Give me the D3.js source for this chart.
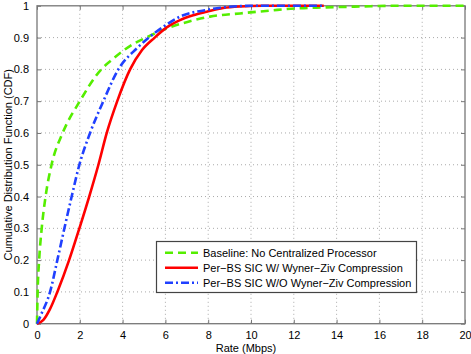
<!DOCTYPE html>
<html><head><meta charset="utf-8">
<script src="https://cdn.jsdelivr.net/npm/d3@7/dist/d3.min.js"></script>
<style>body{margin:0;background:#fff}svg{display:block}text{font-family:"Liberation Sans",Arial,sans-serif}</style>
</head><body><div id="chart"></div>
<script>
const xTicks = [0,2,4,6,8,10,12,14,16,18,20];
const yTicks = [0,0.1,0.2,0.3,0.4,0.5,0.6,0.7,0.8,0.9,1];
const seriesNames = ["Baseline: No Centralized Processor","Per\u2212BS SIC W/ Wyner\u2212Ziv Compression","Per\u2212BS SIC W/O Wyner\u2212Ziv Compression"];
const baselineRate = [0,0.03,0.1,0.22,0.4,0.68,1.2,2.0,3.0,3.5,4.5,5.1,6.06,7.07,8.08,9.49,10.9,12.1,13.5,15.2,16.5,20];
const baselineCdf  = [0,0.1,0.2,0.3,0.4,0.5,0.6,0.7,0.8,0.83,0.88,0.9,0.929,0.95,0.966,0.976,0.985,0.992,0.995,0.998,1,1];
const wzRate = [0,0.3,0.6,0.95,1.5,1.98,2.44,2.87,3.26,3.75,4.35,4.9,5.5,6.06,6.68,7.3,7.93,8.7,9.5,10.5,13.4];
const wzCdf  = [0,0.012,0.045,0.1,0.2,0.3,0.4,0.5,0.6,0.7,0.8,0.86,0.9,0.932,0.955,0.97,0.981,0.993,0.998,1,1];
const noWzRate = [0,0.2,0.61,0.95,1.28,1.62,1.98,2.48,3.1,3.8,4.66,5.28,5.9,6.68,7.93,9.0,10,13.4];
const noWzCdf  = [0,0.03,0.1,0.2,0.3,0.4,0.5,0.6,0.7,0.8,0.866,0.903,0.934,0.966,0.987,0.997,1,1];

const W=471,H=354, L=37, R=465, T=5.8, B=323.7;
const svg=d3.select("#chart").append("svg").attr("width",W).attr("height",H);
const x=d3.scaleLinear().domain([0,20]).range([L,R]);
const y=d3.scaleLinear().domain([0,1]).range([B,T]);
const frame="#777";

// grid
svg.append("g").selectAll("line").data(xTicks.slice(1,-1)).join("line")
  .attr("x1",d=>x(d)).attr("x2",d=>x(d)).attr("y1",T).attr("y2",B)
  .attr("stroke","#aaa").attr("stroke-width",1).attr("stroke-dasharray","1,3");
svg.append("g").selectAll("line").data(yTicks.slice(1,-1)).join("line")
  .attr("y1",d=>y(d)).attr("y2",d=>y(d)).attr("x1",L).attr("x2",R)
  .attr("stroke","#aaa").attr("stroke-width",1).attr("stroke-dasharray","1,3");

// axes
const gx=svg.append("g").attr("transform",`translate(0,${B})`)
  .call(d3.axisBottom(x).tickValues(xTicks).tickSize(-4).tickPadding(8).tickFormat(d3.format("d")));
const gxt=svg.append("g").attr("transform",`translate(0,${T})`)
  .call(d3.axisTop(x).tickValues(xTicks).tickSize(-4).tickFormat(""));
const gy=svg.append("g").attr("transform",`translate(${L},0)`)
  .call(d3.axisLeft(y).tickValues(yTicks).tickSize(-4).tickPadding(8).tickFormat(d=>d===0||d===1?String(d):d3.format(".1f")(d)));
const gyr=svg.append("g").attr("transform",`translate(${R},0)`)
  .call(d3.axisRight(y).tickValues(yTicks).tickSize(-4).tickFormat(""));
[gx,gxt,gy,gyr].forEach(g=>{
  g.select(".domain").remove();
  g.selectAll("line").attr("stroke",frame);
  g.selectAll("text").attr("font-size",11).attr("fill","#000").style("font-family","Liberation Sans, Arial, sans-serif");
});
gx.selectAll("text").attr("dy","0.71em");
svg.append("rect").attr("x",L).attr("y",T).attr("width",R-L).attr("height",B-T)
  .attr("fill","none").attr("stroke",frame).attr("stroke-width",1.3);

// lines
const line=d3.line().x(d=>x(d[0])).y(d=>y(d[1])).curve(d3.curveMonotoneX);
const series=[
  {rate:baselineRate,cdf:baselineCdf,color:"#55ee00",dash:"8,5"},
  {rate:wzRate,cdf:wzCdf,color:"#ff0000",dash:null},
  {rate:noWzRate,cdf:noWzCdf,color:"#2040ff",dash:"8,3,2,3"}
];
series.forEach(s=>{
  svg.append("path").datum(s.rate.map((r,i)=>[r,s.cdf[i]]))
    .attr("d",line).attr("fill","none").attr("stroke",s.color).attr("stroke-width",2.6)
    .attr("stroke-dasharray",s.dash).attr("stroke-linejoin","round");
});

// legend
const lg=svg.append("g");
lg.append("rect").attr("x",156.5).attr("y",241.5).attr("width",260).attr("height",51)
  .attr("fill","#fff").attr("stroke","#444").attr("stroke-width",1.2);
series.forEach((s,i)=>{
  const yy=252.7+i*15;
  lg.append("line").attr("x1",165).attr("x2",198).attr("y1",yy).attr("y2",yy)
    .attr("stroke",s.color).attr("stroke-width",2.6).attr("stroke-dasharray",s.dash);
  lg.append("text").attr("x",203).attr("y",yy).attr("dy","0.35em").attr("font-size",11).text(seriesNames[i]);
});

// labels
svg.append("text").attr("x",246).attr("y",348).attr("dy","0.35em").attr("text-anchor","middle").attr("font-size",11).text("Rate (Mbps)");
svg.append("text").attr("transform",`translate(8,${(T+B)/2}) rotate(-90)`).attr("dy","0.35em").attr("text-anchor","middle").attr("font-size",11).text("Cumulative Distribution Function (CDF)");
</script></body></html>
